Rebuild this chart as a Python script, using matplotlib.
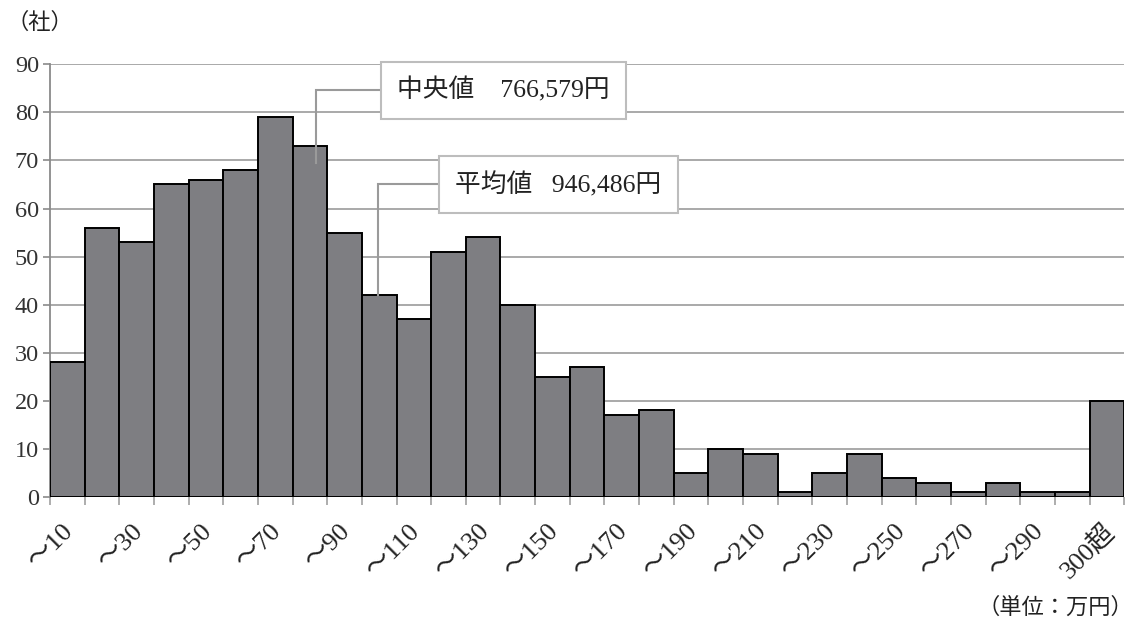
import numpy as np
import matplotlib.pyplot as plt

plt.rcParams['font.family'] = ['Liberation Serif', 'Noto Sans CJK JP']

# 役員報酬の分布（万円単位、10万円刻み）
bins = ['～%d' % v for v in range(10, 301, 10)] + ['300超']
counts = [28, 56, 53, 65, 66, 68, 79, 73, 55, 42, 37, 51, 54, 40, 25,
          27, 17, 18, 5, 10, 9, 1, 5, 9, 4, 3, 1, 3, 1, 1, 20]
yticks = [0, 10, 20, 30, 40, 50, 60, 70, 80, 90]

median_yen = 766579
mean_yen = 946486

bar_color = '#7e7e82'
grid_color = '#a3a3a3'

fig = plt.figure(figsize=(11.39, 6.24), dpi=100)
ax = fig.add_axes([0.0439, 0.2035, 0.9431, 0.6935])

x = np.arange(len(counts))
ax.bar(x, counts, width=1.0, color=bar_color, edgecolor='black', linewidth=1.4, zorder=3)

ax.set_xlim(-0.5, len(counts) - 0.5)
ax.set_ylim(0, 90)
ax.set_yticks(yticks)
ax.yaxis.grid(True, color=grid_color, linewidth=1.3, zorder=0)
ax.set_axisbelow(True)
for s in ['top', 'right', 'bottom']:
    ax.spines[s].set_visible(False)
ax.spines['left'].set_color('#8a8a8a')
ax.spines['left'].set_linewidth(1.3)
ax.axhline(0, color='#8a8a8a', linewidth=1.3, zorder=2)
ax.tick_params(axis='y', length=5, color='#8a8a8a', width=1.2, labelsize=17.5,
               labelcolor='#333333', pad=3)

# 目盛りは棒の境界、ラベルは1本おき
ax.set_xticks(np.arange(len(counts) + 1) - 0.5)
ax.set_xticklabels([])
ax.tick_params(axis='x', length=6, color='#a0a0a0', width=1.2)
for i in range(0, len(counts), 2):
    ax.annotate(bins[i], xy=(i, 0), xycoords='data', xytext=(2, -22),
                textcoords='offset points', rotation=45, rotation_mode='anchor',
                ha='right', va='center', fontsize=19, color='#222222')

# 中央値・平均値の引き出し線と吹き出し
def leader(value_yen, text, box_x, line_y, drop):
    man = value_yen / 10000
    xv = man / 10 - 0.5
    idx = int(np.ceil(man / 10)) - 1
    top = counts[idx] - drop
    ax.plot([xv, xv, box_x], [top, line_y, line_y], color='#9a9a9a', linewidth=1.5,
            zorder=4, solid_joinstyle='miter')
    ax.text(box_x, line_y, text, fontsize=18.5, color='#222222', ha='left', va='center',
            zorder=6,
            bbox=dict(boxstyle='square,pad=0.62', facecolor='white',
                      edgecolor='#bdbdbd', linewidth=1.5))

leader(median_yen, '中央値    766,579円', 9.52, 84.6, 3.5)
leader(mean_yen, '平均値   946,486円', 11.2, 65.0, 0.0)

fig.text(0.006, 0.962, '（社）', fontsize=16, color='#222222', ha='left', va='center')
fig.text(0.995, 0.025, '（単位：万円）', fontsize=16, color='#222222', ha='right', va='center')

fig.savefig('out.png', dpi=100)
